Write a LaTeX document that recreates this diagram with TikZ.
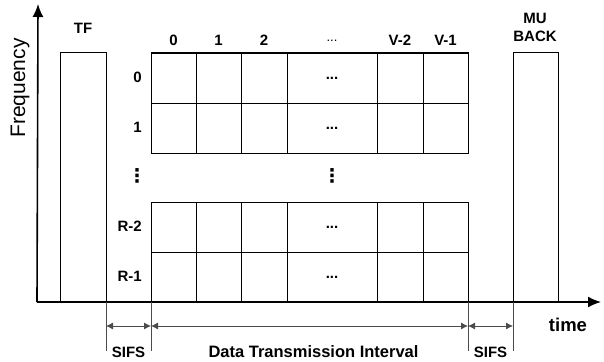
\documentclass[tikz,border=0pt]{standalone}
\usepackage{fontspec}
\setmainfont{Liberation Sans}
\newfontfamily\symfont{DejaVu Sans}
\usetikzlibrary{arrows.meta}
\begin{document}
\begin{tikzpicture}[x=1pt,y=-1pt]
	\tikzset{
		box/.style={draw, line width=1pt, inner sep=0pt, outer sep=0pt},
		cell/.style={box, minimum height=50pt},
		lab/.style={font=\fontsize{15}{18}\selectfont\bfseries, inner sep=1pt},
		vdots/.style={font=\fontsize{19}{22}\selectfont\symfont\bfseries, inner sep=0pt},
		axis/.style={line width=1.6pt, -{Latex[length=13pt,width=11pt]}},
		tick/.style={draw=black!70, line width=0.8pt},
		span/.style={draw=black!70, line width=0.8pt, {Latex[length=7pt,width=7pt]}-{Latex[length=7pt,width=7pt]}}
	}
	\useasboundingbox (0,0) rectangle (604,361);
	% blocks
	\node[box, minimum width=46pt, minimum height=249pt, anchor=south west] (TF) at ( 60,302) {};
	\node[box, minimum width=45pt, minimum height=249pt, anchor=south west] (MU) at (513,302) {};
	\foreach \r/\y in {0/78, 1/128, R2/227, R1/277}
		\foreach \c/\x/\w in {0/173.5/45, 1/218.5/45, 2/264/46, d/332/90, V2/400/46, V1/445.5/45}
			\node[cell, minimum width=\w pt] (c\r\c) at (\x,\y) {};
	\foreach \r in {0, 1, R2, R1}
		\node[lab] (dots\r) at (c\r d) {...};
	% labels
	\node[lab] (TFlab) at ( 83, 28) {TF};
	\node[lab, align=center] (MUlab) at (535, 27) {MU\\BACK};
	\node[lab] (col0)  at (173.5,40) {0};
	\node[lab] (col1)  at (218.5,40) {1};
	\node[lab] (col2)  at (264  ,40) {2};
	\node[font=\fontsize{13}{15}\selectfont] (cold) at (332,41) {...};
	\node[lab] (colV2) at (400  ,40) {V-2};
	\node[lab] (colV1) at (445.5,40) {V-1};
	\node[lab, anchor=east] (row0)  at (143, 77) {0};
	\node[lab, anchor=east] (row1)  at (143,127) {1};
	\node[lab, anchor=east] (rowR2) at (143,226) {R-2};
	\node[lab, anchor=east] (rowR1) at (143,276) {R-1};
	\node[vdots] (vdl) at (137,176) {⋮};
	\node[vdots] (vdm) at (332,176) {⋮};
	\node[font=\fontsize{21}{24}\selectfont, rotate=90] (freq) at (20,88) {Frequency};
	\node[font=\fontsize{18.5}{22}\selectfont\bfseries] (time) at (568,325) {time};
	% axes
	\coordinate (org) at ( 37,302);
	\coordinate (ytip) at ( 38,  4);
	\coordinate (xtip) at (601,302);
	\draw[axis] (org) -- (ytip);
	\draw[axis] (org) -- (xtip);
	% spans
	\coordinate (d1) at (106,351);
	\coordinate (d2) at (151,351);
	\coordinate (d3) at (468,351);
	\coordinate (d4) at (513,351);
	\coordinate (a1) at (106,326);
	\coordinate (a2) at (151,326);
	\coordinate (a3) at (468,326);
	\coordinate (a4) at (513,326);
	\draw[tick] (TF.south east) -- (d1);
	\draw[tick] (cR10.south west) -- (d2);
	\draw[tick] (cR1V1.south east) -- (d3);
	\draw[tick] (MU.south west) -- (d4);
	\draw[span] (a1) -- (a2);
	\draw[span] (a2) -- (a3);
	\draw[span] (a3) -- (a4);
	\node[lab] (sifs1) at (128.5,352) {SIFS};
	\node[lab, font=\fontsize{16.5}{20}\selectfont\bfseries] (dti) at (313.5,352) {Data Transmission Interval};
	\node[lab] (sifs2) at (490.5,352) {SIFS};
\end{tikzpicture}
\end{document}
